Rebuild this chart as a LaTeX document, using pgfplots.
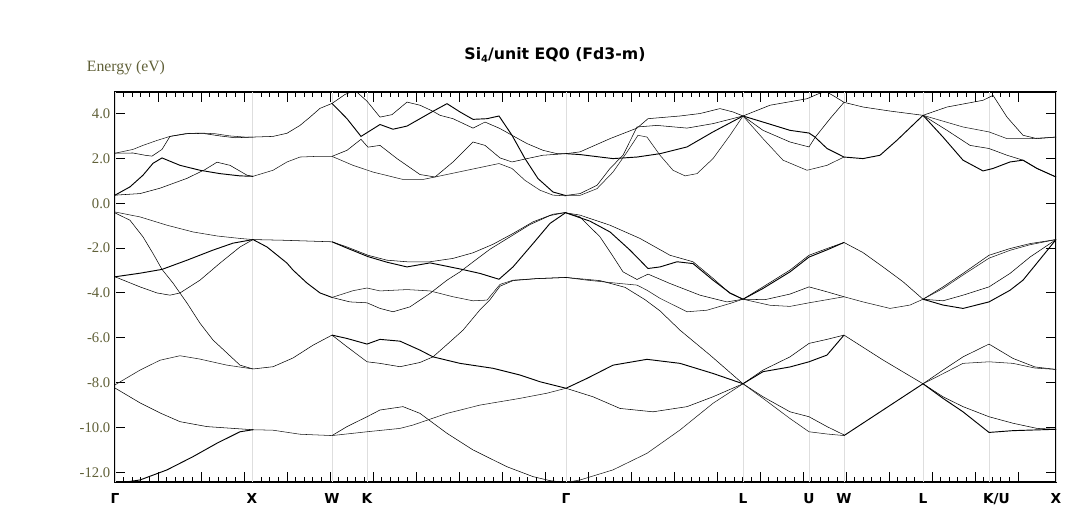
\documentclass[border=0pt]{standalone}
\usepackage{fontspec}
\setmainfont{Liberation Serif}
\newfontfamily\vsans{DejaVu Sans}
\usepackage{pgfplots}
\pgfplotsset{compat=1.18}
\definecolor{olv}{RGB}{96,96,56}
\begin{document}
\begin{tikzpicture}[x=0.75pt,y=0.75pt]
\useasboundingbox (-115,-39) rectangle (951,482);
\begin{axis}[
  at={(0,0)}, anchor=south west,
  scale only axis, width=705.75pt, height=292.5pt,
  xmin=115, xmax=1056, ymin=-12.43, ymax=4.96,
  xtick={115,158,...,1018}, xticklabels={}, minor x tick num=4,
  ytick={-12,-10,...,4},
  yticklabels={-12.0,-10.0,-8.0,-6.0,-4.0,-2.0,0.0,2.0,4.0},
  minor y tick num=0,
  tick align=inside, major tick length=7.5pt, minor tick length=3.75pt,
  major tick style={black, line width=0.75pt},
  minor tick style={black, line width=0.75pt},
  yticklabel style={font=\fontsize{11}{12}\selectfont, text=olv},
  axis line style={line width=1.5pt},
  extra x ticks={115,252,332,367,566,743,809,844,923,989,1056},
  extra x tick labels={Γ,X,W,K,Γ,L,U,W,L,\makebox[0pt][l]{\hspace*{-4.5pt}K/U},X},
  extra x tick style={grid=major, major grid style={black!13, line width=0.75pt},
     major tick style={draw=none},
     tick label style={font=\vsans\bfseries\fontsize{10.3}{12}\selectfont, yshift=-5pt}},
  cycle list={{black!90, solid, line width=0.7pt, mark=none}},
]
% Gamma - X
\addplot coordinates {(115,2.23) (133,2.40) (143,2.58) (157,2.80) (170,2.98) (185,3.10) (200,3.13) (215,3.10) (230,3.00) (245,2.95) (253,2.95)};
\addplot coordinates {(115,2.23) (133,2.24) (145,2.14) (152,2.10) (162,2.40) (170,2.98) (190,3.12) (205,3.10) (220,3.00) (235,2.92) (253,2.95)};
\addplot coordinates {(115,0.36) (130,0.73) (143,1.25) (153,1.78) (162,2.02) (180,1.69) (200,1.47) (220,1.32) (240,1.22) (253,1.20)};
\addplot coordinates {(115,0.36) (140,0.43) (160,0.67) (187,1.11) (205,1.50) (217,1.83) (230,1.69) (247,1.25) (253,1.20)};
\addplot coordinates {(115,-0.39) (140,-0.61) (167,-0.98) (193,-1.28) (217,-1.46) (240,-1.57) (253,-1.62)};
\addplot coordinates {(115,-0.43) (130,-0.76) (143,-1.50) (153,-2.24) (162,-2.95) (173,-3.56) (187,-4.45) (200,-5.35) (213,-6.10) (227,-6.68) (240,-7.22) (253,-7.39)};
\addplot coordinates {(115,-3.28) (140,-3.12) (162,-2.95) (187,-2.54) (213,-2.09) (233,-1.78) (253,-1.62)};
\addplot coordinates {(115,-3.28) (140,-3.73) (157,-4.00) (170,-4.10) (180,-4.00) (200,-3.43) (220,-2.67) (240,-1.95) (253,-1.62)};
\addplot coordinates {(115,-8.10) (140,-7.44) (160,-7.00) (180,-6.80) (200,-6.95) (227,-7.22) (253,-7.39)};
\addplot coordinates {(115,-8.24) (140,-8.90) (160,-9.35) (180,-9.74) (207,-9.96) (253,-10.10)};
\addplot coordinates {(115,-12.50) (140,-12.34) (167,-11.89) (193,-11.30) (217,-10.70) (240,-10.19) (253,-10.10)};
% X - W
\addplot coordinates {(253,2.95) (273,2.98) (287,3.12) (300,3.47) (310,3.84) (320,4.23) (332,4.45)};
\addplot coordinates {(253,1.20) (273,1.47) (287,1.84) (300,2.06) (317,2.09) (332,2.09)};
\addplot coordinates {(253,-1.62) (283,-1.65) (332,-1.72)};
\addplot coordinates {(253,-1.62) (267,-1.95) (287,-2.67) (293,-2.98) (307,-3.56) (320,-4.00) (332,-4.20)};
\addplot coordinates {(253,-7.39) (273,-7.29) (293,-6.90) (313,-6.33) (332,-5.88)};
\addplot coordinates {(253,-10.10) (273,-10.12) (300,-10.30) (332,-10.36)};
% W - K - Gamma
\addplot coordinates {(332,4.45) (345,4.85) (352,4.98) (357,4.95) (367,4.55) (380,3.84) (392,3.95) (407,4.51) (420,4.37) (433,4.10) (440,3.92) (453,3.77) (473,3.35) (485,3.62) (500,3.33) (512,3.03) (527,2.66) (543,2.36) (557,2.21) (566,2.21)};
\addplot coordinates {(332,4.45) (347,3.77) (361,2.98) (380,3.51) (393,3.30) (407,3.44) (420,3.77) (433,4.10) (447,4.44) (460,4.07) (473,3.74) (487,3.77) (499,3.89) (512,3.03) (525,1.99) (538,1.10) (553,0.50) (566,0.34)};
\addplot coordinates {(332,2.09) (347,2.36) (361,2.85) (368,2.50) (380,2.58) (397,1.99) (420,1.28) (435,1.17) (453,1.84) (473,2.73) (485,2.58) (500,2.02) (512,1.84) (527,1.99) (543,2.14) (566,2.21)};
\addplot coordinates {(332,2.09) (353,1.69) (373,1.39) (403,1.06) (423,1.06) (435,1.17) (467,1.47) (499,1.77) (512,1.55) (525,1.02) (540,0.58) (553,0.36) (566,0.33)};
\addplot coordinates {(332,-1.72) (347,-1.95) (368,-2.32) (387,-2.54) (407,-2.61) (430,-2.61) (453,-2.46) (473,-2.21) (493,-1.83) (513,-1.35) (533,-0.83) (553,-0.49) (566,-0.41)};
\addplot coordinates {(332,-1.72) (347,-2.00) (368,-2.38) (387,-2.63) (407,-2.84) (430,-2.66) (460,-2.93) (480,-3.13) (499,-3.39) (513,-2.84) (533,-1.80) (550,-0.90) (566,-0.41)};
\addplot coordinates {(332,-4.20) (350,-4.40) (367,-4.44) (380,-4.69) (393,-4.84) (410,-4.62) (430,-4.02) (447,-3.43) (460,-3.06) (475,-2.55) (490,-2.05) (510,-1.50) (530,-0.95) (550,-0.55) (566,-0.41)};
\addplot coordinates {(332,-4.20) (353,-3.90) (367,-3.78) (380,-3.91) (407,-3.85) (430,-3.91) (453,-4.17) (473,-4.35) (487,-4.32) (500,-3.62) (513,-3.43) (537,-3.36) (566,-3.31)};
\addplot coordinates {(332,-5.88) (347,-6.40) (367,-7.07) (380,-7.14) (400,-7.29) (420,-7.10) (433,-6.85) (447,-6.30) (463,-5.66) (480,-4.75) (490,-4.30) (500,-3.70) (513,-3.45) (537,-3.36) (566,-3.31)};
\addplot coordinates {(332,-5.88) (347,-6.03) (367,-6.28) (380,-6.07) (400,-6.15) (420,-6.55) (433,-6.85) (460,-7.14) (493,-7.36) (520,-7.66) (540,-7.96) (566,-8.25)};
\addplot coordinates {(332,-10.36) (347,-9.96) (367,-9.52) (380,-9.22) (403,-9.07) (420,-9.37) (447,-10.26) (473,-11.00) (507,-11.75) (533,-12.19) (550,-12.37) (566,-12.45)};
\addplot coordinates {(332,-10.36) (367,-10.19) (400,-10.04) (413,-9.89) (447,-9.37) (480,-9.00) (520,-8.70) (547,-8.47) (566,-8.25)};
% Gamma - L
\addplot coordinates {(566,2.21) (580,2.29) (610,2.88) (637,3.35) (648,3.77) (680,3.89) (700,4.00) (720,4.22) (733,4.07) (743,3.89)};
\addplot coordinates {(566,2.21) (580,2.17) (613,1.99) (637,2.06) (660,2.21) (687,2.51) (713,3.18) (743,3.89)};
\addplot coordinates {(566,0.35) (580,0.43) (597,0.80) (610,1.55) (623,2.14) (637,3.40) (657,3.47) (687,3.35) (713,3.55) (743,3.89)};
\addplot coordinates {(566,0.35) (580,0.35) (597,0.65) (613,1.39) (627,2.28) (638,3.03) (647,2.95) (660,2.14) (673,1.47) (685,1.22) (697,1.32) (713,1.99) (730,3.03) (743,3.89)};
\addplot coordinates {(566,-0.43) (580,-0.53) (610,-0.98) (640,-1.57) (670,-2.32) (693,-2.61) (713,-3.35) (730,-4.02) (743,-4.28)};
\addplot coordinates {(566,-0.43) (590,-0.80) (610,-1.28) (630,-2.09) (648,-2.91) (660,-2.84) (677,-2.61) (693,-2.69) (713,-3.43) (730,-4.00) (743,-4.28)};
\addplot coordinates {(566,-0.43) (580,-0.61) (600,-1.50) (612,-2.30) (623,-3.06) (637,-3.40) (648,-3.16) (670,-3.58) (700,-4.10) (727,-4.40) (743,-4.28)};
\addplot coordinates {(566,-3.31) (587,-3.43) (620,-3.58) (637,-3.65) (647,-3.88) (660,-4.24) (687,-4.84) (707,-4.77) (730,-4.47) (743,-4.28)};
\addplot coordinates {(566,-3.31) (600,-3.45) (625,-3.75) (645,-4.30) (660,-4.80) (680,-5.66) (710,-6.77) (743,-8.05)};
\addplot coordinates {(566,-8.25) (587,-7.81) (613,-7.22) (647,-6.96) (680,-7.14) (713,-7.59) (743,-8.05)};
\addplot coordinates {(566,-8.25) (593,-8.63) (620,-9.15) (653,-9.30) (687,-9.07) (713,-8.63) (743,-8.05)};
\addplot coordinates {(566,-12.45) (580,-12.34) (613,-11.89) (647,-11.15) (680,-10.11) (713,-8.92) (743,-8.05)};
% L - U - W
\addplot coordinates {(743,3.89) (770,4.37) (807,4.66) (820,4.91) (826,4.98) (835,4.75) (844,4.50)};
\addplot coordinates {(743,3.89) (763,3.62) (790,3.25) (809,3.13) (815,2.95) (827,2.44) (844,2.06)};
\addplot coordinates {(743,3.89) (763,3.25) (790,2.73) (809,2.51) (815,2.93) (830,3.77) (844,4.50)};
\addplot coordinates {(743,3.89) (763,2.88) (783,1.92) (807,1.47) (827,1.69) (844,2.06)};
\addplot coordinates {(743,-4.28) (763,-3.73) (790,-2.98) (809,-2.32) (827,-2.02) (844,-1.75)};
\addplot coordinates {(743,-4.28) (763,-3.80) (790,-3.06) (809,-2.40) (827,-2.08) (844,-1.75)};
\addplot coordinates {(743,-4.28) (765,-4.30) (790,-4.05) (809,-3.73) (827,-3.95) (844,-4.17)};
\addplot coordinates {(743,-4.28) (770,-4.55) (790,-4.60) (809,-4.44) (844,-4.17)};
\addplot coordinates {(743,-8.05) (763,-7.44) (790,-6.85) (809,-6.25) (827,-6.07) (844,-5.88)};
\addplot coordinates {(743,-8.05) (763,-7.51) (790,-7.30) (809,-7.07) (827,-6.77) (844,-5.88)};
\addplot coordinates {(743,-8.05) (763,-8.63) (790,-9.30) (809,-9.52) (827,-9.96) (844,-10.33)};
\addplot coordinates {(743,-8.05) (763,-8.70) (790,-9.60) (809,-10.19) (827,-10.29) (844,-10.36)};
% W - L
\addplot coordinates {(844,4.50) (863,4.29) (890,4.11) (923,3.92)};
\addplot coordinates {(844,2.06) (863,1.99) (880,2.14) (897,2.81) (923,3.92)};
\addplot coordinates {(844,-1.75) (863,-2.20) (883,-2.84) (903,-3.50) (923,-4.28)};
\addplot coordinates {(844,-4.17) (863,-4.40) (890,-4.69) (910,-4.54) (923,-4.28)};
\addplot coordinates {(844,-5.88) (883,-6.99) (923,-8.05)};
\addplot coordinates {(844,-10.36) (883,-9.22) (923,-8.05)};
% L - K/U - X
\addplot coordinates {(923,3.92) (947,4.29) (983,4.59) (993,4.81) (1007,3.84) (1023,3.03) (1037,2.88) (1056,2.95)};
\addplot coordinates {(923,3.92) (963,3.40) (989,3.18) (1007,2.88) (1030,2.88) (1056,2.95)};
\addplot coordinates {(923,3.92) (947,3.25) (970,2.58) (989,2.44) (1007,2.14) (1023,1.92) (1037,1.55) (1056,1.17)};
\addplot coordinates {(923,3.92) (943,2.95) (963,1.92) (983,1.44) (993,1.55) (1010,1.84) (1023,1.92) (1037,1.55) (1056,1.17)};
\addplot coordinates {(923,-4.28) (943,-3.73) (963,-3.13) (989,-2.32) (1010,-2.02) (1030,-1.80) (1056,-1.62)};
\addplot coordinates {(923,-4.28) (943,-3.80) (963,-3.20) (989,-2.45) (1010,-2.10) (1030,-1.85) (1056,-1.62)};
\addplot coordinates {(923,-4.28) (943,-4.35) (963,-4.10) (989,-3.73) (1010,-3.13) (1030,-2.40) (1056,-1.62)};
\addplot coordinates {(923,-4.28) (943,-4.54) (963,-4.69) (989,-4.40) (1010,-3.88) (1023,-3.43) (1040,-2.50) (1056,-1.62)};
\addplot coordinates {(923,-8.05) (943,-7.44) (963,-6.85) (989,-6.28) (1013,-6.92) (1035,-7.30) (1056,-7.41)};
\addplot coordinates {(923,-8.05) (943,-7.60) (963,-7.14) (989,-7.07) (1013,-7.14) (1035,-7.35) (1056,-7.41)};
\addplot coordinates {(923,-8.05) (943,-8.63) (963,-9.07) (989,-9.52) (1013,-9.81) (1037,-10.04) (1056,-10.08)};
\addplot coordinates {(923,-8.05) (943,-8.70) (963,-9.30) (989,-10.22) (1013,-10.14) (1056,-10.08)};
\end{axis}
\node[font=\vsans\bfseries\fontsize{11.8}{14}\selectfont, anchor=base] at (440,422)
  {Si\raisebox{-0.25ex}{\fontsize{7.5}{8}\selectfont 4}/unit EQ0 (Fd3-m)};
\node[font=\fontsize{11.8}{14}\selectfont, text=olv, anchor=base west, inner sep=0pt] at (-28.3,410.3) {Energy (eV)};
\end{tikzpicture}
\end{document}
